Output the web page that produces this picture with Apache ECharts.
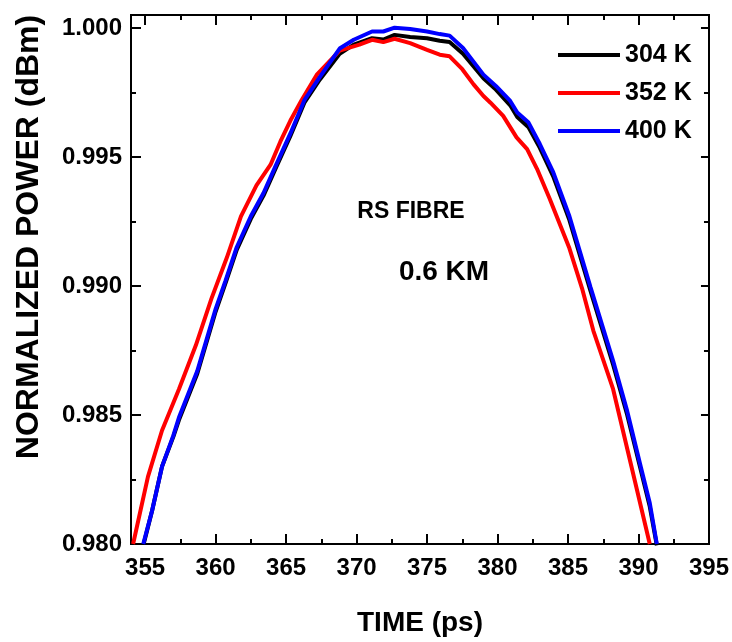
<!DOCTYPE html>
<html><head><meta charset="utf-8">
<script src="https://cdn.jsdelivr.net/npm/echarts@6/dist/echarts.min.js"></script>
<style>html,body{margin:0;padding:0;background:#fff}#c{width:732px;height:642px}</style>
</head><body><div id="c"></div>
<script>
var seriesNames = ['304 K', '352 K', '400 K'];
var seriesColors = ['#000000', '#ff0000', '#0000ff'];

var time304 = [354.9,355.5,356.2,357.0,357.4,358.7,360.0,360.7,361.5,362.5,363.4,364.3,365.3,366.3,367.4,368.8,369.8,371.1,371.9,372.7,373.8,375.0,375.9,376.6,377.55,379.0,379.9,380.9,381.4,382.2,383.0,383.95,385.1,386.6,388.2,389.2,390.1,390.8,391.3];
var power304 = [0.9800,0.9813,0.9830,0.98415,0.9848,0.9866,0.9890,0.9901,0.9914,0.9926,0.9935,0.9946,0.9958,0.9971,0.9980,0.99900,0.99935,0.99960,0.99955,0.99973,0.99965,0.99960,0.99950,0.99945,0.99900,0.99805,0.99760,0.99700,0.99655,0.99615,0.99535,0.99425,0.99255,0.98980,0.98695,0.98500,0.98300,0.98145,0.97995];

var time352 = [354.15,355.2,356.2,357.4,358.6,359.7,360.8,361.8,362.9,363.9,364.6,365.3,366.1,367.2,368.8,370.2,371.1,371.9,372.7,373.8,375.0,375.9,376.6,377.5,378.3,379.0,379.5,380.4,381.35,382.1,382.8,383.7,385.1,386.0,386.8,388.2,389.5,390.8];
var power352 = [0.9800,0.9826,0.9844,0.9860,0.9877,0.9895,0.9911,0.9927,0.9939,0.9947,0.9956,0.9964,0.9972,0.9982,0.99912,0.99935,0.99954,0.99945,0.99958,0.99941,0.99915,0.99896,0.99890,0.99840,0.99781,0.99736,0.99710,0.99659,0.99576,0.99530,0.99454,0.99338,0.99146,0.98990,0.98826,0.98600,0.98300,0.98000];

var time400 = [354.87,355.5,356.2,357.0,357.4,358.7,360.0,360.7,361.5,362.5,363.4,364.3,365.3,366.3,367.4,368.8,369.8,371.1,371.9,372.7,373.8,375.0,375.9,376.6,377.55,379.0,379.9,380.9,381.4,382.2,383.0,383.95,385.1,386.6,388.2,389.2,390.1,390.8,391.3];
var power400 = [0.9800,0.9813,0.9830,0.9842,0.9849,0.9867,0.9891,0.9902,0.9915,0.9927,0.9936,0.9947,0.9959,0.9972,0.9981,0.99920,0.99954,0.99986,0.99986,1.00001,0.99996,0.99986,0.99976,0.99970,0.99922,0.99819,0.99774,0.99717,0.99672,0.99633,0.99550,0.99441,0.99270,0.98995,0.98710,0.98515,0.98313,0.98159,0.98000];

var xMajorTicks = [355,360,365,370,375,380,385,390,395];
var xMinorTicks = [357.5,362.5,367.5,372.5,377.5,382.5,387.5,392.5];
var yMajorTicks = [0.980,0.985,0.990,0.995,1.000];
var yMinorTicks = [0.9825,0.9875,0.9925,0.9975];

var X_MIN = 354, X_MAX = 395, Y_MIN = 0.98, Y_MAX = 1.0005;
var FONT = 'Liberation Sans';

function pairs(t, v) { return t.map(function (x, i) { return [x, v[i]]; }); }

function xAx(pos, ticks, len, labels) {
  return {
    type: 'value', position: pos, min: X_MIN, max: X_MAX,
    splitLine: { show: false },
    axisLine: { show: true, onZero: false, lineStyle: { color: '#000', width: 2 } },
    axisTick: { show: true, inside: true, length: len, customValues: ticks, lineStyle: { color: '#000', width: 2 } },
    axisLabel: labels ? { show: true, customValues: ticks, margin: 12, fontFamily: FONT, fontWeight: 'bold', fontSize: 24, color: '#000' } : { show: false }
  };
}
function yAx(pos, ticks, len, labels) {
  return {
    type: 'value', position: pos, min: Y_MIN, max: Y_MAX,
    splitLine: { show: false },
    axisLine: { show: true, onZero: false, lineStyle: { color: '#000', width: 2 } },
    axisTick: { show: true, inside: true, length: len, customValues: ticks, lineStyle: { color: '#000', width: 2 } },
    axisLabel: labels ? { show: true, customValues: ticks, margin: 9, fontFamily: FONT, fontWeight: 'bold', fontSize: 24, color: '#000',
      formatter: function (v) { return v.toFixed(3); } } : { show: false }
  };
}

var xAxes = [xAx('bottom', xMajorTicks, 10, true), xAx('top', xMajorTicks, 10, false), xAx('bottom', xMinorTicks, 5, false), xAx('top', xMinorTicks, 5, false)];
xAxes[0].name = 'TIME (ps)';
xAxes[0].nameLocation = 'middle';
xAxes[0].nameGap = 65;
xAxes[0].nameTextStyle = { fontFamily: FONT, fontWeight: 'bold', fontSize: 28, color: '#000' };
var yAxes = [yAx('left', yMajorTicks, 10, true), yAx('right', yMajorTicks, 8, false), yAx('left', yMinorTicks, 5, false), yAx('right', yMinorTicks, 5, false)];

var chart = echarts.init(document.getElementById('c'), null, { renderer: 'canvas' });
chart.setOption({
  animation: false,
  backgroundColor: '#fff',
  grid: { left: 131, right: 22, top: 15, bottom: 94 },
  xAxis: xAxes,
  yAxis: yAxes,
  legend: {
    orient: 'vertical', left: 553, top: 35, itemWidth: 62, itemHeight: 4, itemGap: 8, icon: 'rect',
    data: seriesNames,
    textStyle: { fontFamily: FONT, fontWeight: 'bold', fontSize: 25, color: '#000', lineHeight: 30, padding: [0, 0, 0, 0] }
  },
  graphic: [
    { type: 'text', x: 29, y: 237, rotation: Math.PI / 2,
      style: { text: 'NORMALIZED POWER (dBm)', fontFamily: FONT, fontWeight: 'bold', fontSize: 32, fill: '#000', align: 'center', verticalAlign: 'middle' } },
    { type: 'text', x: 411, y: 212,
      style: { text: 'RS FIBRE', fontFamily: FONT, fontWeight: 'bold', fontSize: 23, fill: '#000', align: 'center', verticalAlign: 'middle' } },
    { type: 'text', x: 444, y: 272,
      style: { text: '0.6 KM', fontFamily: FONT, fontWeight: 'bold', fontSize: 28, fill: '#000', align: 'center', verticalAlign: 'middle' } }
  ],
  series: [
    { name: seriesNames[0], type: 'line', data: pairs(time304, power304), showSymbol: false, symbol: 'none', lineStyle: { color: seriesColors[0], width: 4 }, itemStyle: { color: seriesColors[0] } },
    { name: seriesNames[1], type: 'line', data: pairs(time352, power352), showSymbol: false, symbol: 'none', lineStyle: { color: seriesColors[1], width: 4 }, itemStyle: { color: seriesColors[1] } },
    { name: seriesNames[2], type: 'line', data: pairs(time400, power400), showSymbol: false, symbol: 'none', lineStyle: { color: seriesColors[2], width: 4 }, itemStyle: { color: seriesColors[2] } }
  ]
});
</script>
</body></html>
